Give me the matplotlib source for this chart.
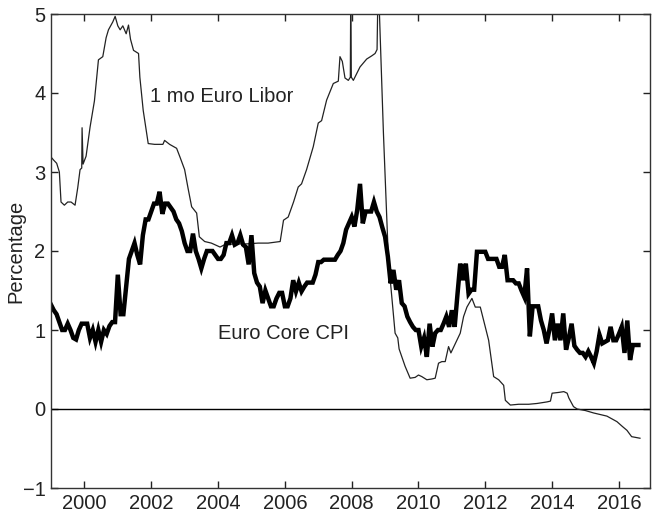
import matplotlib
matplotlib.use("Agg")
import matplotlib.pyplot as plt
import numpy as np

plt.rcParams['font.family'] = ['Liberation Sans', 'DejaVu Sans']

# Euro core CPI, monthly from Jan 1999 (year-over-year %)
cpi_1999 = [1.32, 1.25, 1.20, 1.10, 1.00, 1.00, 1.08, 1.00, 0.90, 0.88, 1.00, 1.08]
cpi_2000 = [1.08, 1.08, 0.90, 1.00, 0.85, 1.00, 0.85, 1.00, 0.95, 1.05, 1.10, 1.10]
cpi_2001 = [1.70, 1.20, 1.20, 1.55, 1.90, 2.00, 2.10, 1.95, 1.83, 2.20, 2.40, 2.40]
cpi_2002 = [2.50, 2.60, 2.60, 2.75, 2.47, 2.60, 2.60, 2.55, 2.50, 2.40, 2.35, 2.25]
cpi_2003 = [2.10, 2.00, 2.00, 2.22, 2.00, 1.90, 1.78, 1.90, 2.00, 2.00, 2.00, 1.95]
cpi_2004 = [1.90, 1.90, 1.95, 2.10, 2.10, 2.20, 2.08, 2.10, 2.20, 2.08, 2.05, 1.83]
cpi_2005 = [2.20, 1.72, 1.60, 1.55, 1.34, 1.50, 1.40, 1.30, 1.30, 1.40, 1.47, 1.47]
cpi_2006 = [1.30, 1.30, 1.40, 1.63, 1.49, 1.60, 1.49, 1.55, 1.60, 1.60, 1.60, 1.70]
cpi_2007 = [1.86, 1.86, 1.89, 1.89, 1.89, 1.89, 1.89, 1.95, 2.00, 2.10, 2.27, 2.35]
cpi_2008 = [2.43, 2.31, 2.52, 2.85, 2.35, 2.50, 2.50, 2.50, 2.62, 2.50, 2.43, 2.30]
cpi_2009 = [2.18, 1.93, 1.59, 1.76, 1.51, 1.63, 1.34, 1.30, 1.17, 1.10, 1.04, 1.00]
cpi_2010 = [1.00, 0.79, 0.90, 0.66, 1.08, 0.79, 0.96, 1.00, 1.00, 1.08, 1.17, 1.04]
cpi_2011 = [1.25, 1.04, 1.45, 1.84, 1.63, 1.84, 1.46, 1.51, 1.51, 1.99, 1.99, 1.99]
cpi_2012 = [1.99, 1.90, 1.90, 1.90, 1.90, 1.80, 1.80, 1.95, 1.63, 1.63, 1.63, 1.59]
cpi_2013 = [1.59, 1.50, 1.42, 1.78, 0.92, 1.30, 1.30, 1.30, 1.12, 1.00, 0.83, 1.00]
cpi_2014 = [1.21, 0.87, 1.08, 0.87, 1.21, 0.75, 0.90, 1.08, 0.80, 0.75, 0.71, 0.71]
cpi_2015 = [0.66, 0.73, 0.66, 0.58, 0.73, 0.94, 0.83, 0.85, 0.87, 1.04, 0.87, 0.87]
cpi_2016 = [0.95, 1.04, 0.71, 1.12, 0.62, 0.81, 0.81, 0.81]

cpi_values = (cpi_1999 + cpi_2000 + cpi_2001 + cpi_2002 + cpi_2003 + cpi_2004 +
              cpi_2005 + cpi_2006 + cpi_2007 + cpi_2008 + cpi_2009 + cpi_2010 +
              cpi_2011 + cpi_2012 + cpi_2013 + cpi_2014 + cpi_2015 + cpi_2016)
cpi_dates = 1999 + np.arange(len(cpi_values)) / 12.0

# 1-month Euro Libor (%), traced points
libor_dates = [1999.00, 1999.08, 1999.17, 1999.25, 1999.30, 1999.40, 1999.50, 1999.60,
               1999.72, 1999.80, 1999.87, 1999.92, 1999.93, 1999.96, 2000.05, 2000.17,
               2000.30, 2000.42, 2000.55, 2000.65, 2000.72, 2000.85, 2000.92, 2001.00,
               2001.07, 2001.15, 2001.25, 2001.32, 2001.38, 2001.47, 2001.62, 2001.66,
               2001.76, 2001.84, 2001.91, 2002.10, 2002.35, 2002.40, 2002.55, 2002.76,
               2002.86, 2003.00, 2003.10, 2003.21, 2003.36, 2003.44, 2003.60, 2003.80,
               2004.06, 2004.20, 2004.50, 2004.86, 2005.20, 2005.50, 2005.86, 2005.96,
               2006.10, 2006.26, 2006.40, 2006.50, 2006.65, 2006.85, 2007.00, 2007.10,
               2007.25, 2007.45, 2007.60, 2007.65, 2007.72, 2007.80, 2007.90, 2007.96,
               2007.97, 2007.99, 2008.05, 2008.25, 2008.45, 2008.60, 2008.70, 2008.76,
               2008.78, 2008.82, 2008.95, 2009.10, 2009.20, 2009.30, 2009.38, 2009.42,
               2009.60, 2009.75, 2009.90, 2010.00, 2010.10, 2010.25, 2010.40, 2010.50,
               2010.60, 2010.70, 2010.80, 2010.90, 2010.97, 2011.15, 2011.25, 2011.35,
               2011.45, 2011.60, 2011.70, 2011.85, 2011.95, 2012.10, 2012.25, 2012.40,
               2012.55, 2012.60, 2012.75, 2013.00, 2013.30, 2013.55, 2013.85, 2013.95,
               2014.00, 2014.20, 2014.35, 2014.45, 2014.50, 2014.64, 2014.75, 2015.00,
               2015.24, 2015.64, 2015.94, 2016.10, 2016.24, 2016.38, 2016.63]
libor_values = [3.19, 3.15, 3.11, 3.00, 2.62, 2.58, 2.62, 2.62,
                2.58, 2.80, 3.03, 3.05, 3.56, 3.10, 3.20, 3.57,
                3.90, 4.42, 4.46, 4.70, 4.80, 4.90, 4.97, 4.85,
                4.80, 4.85, 4.75, 4.86, 4.68, 4.54, 4.50, 4.20,
                3.78, 3.56, 3.36, 3.35, 3.35, 3.40, 3.35, 3.30,
                3.19, 3.03, 2.80, 2.56, 2.48, 2.18, 2.12, 2.10,
                2.05, 2.08, 2.09, 2.09, 2.10, 2.10, 2.12, 2.39,
                2.43, 2.62, 2.81, 2.85, 3.03, 3.32, 3.62, 3.65,
                3.91, 4.12, 4.15, 4.46, 4.40, 4.19, 4.16, 4.20,
                5.10, 4.20, 4.16, 4.33, 4.43, 4.47, 4.50, 4.55,
                5.10, 5.15, 3.50, 1.89, 1.42, 0.96, 0.90, 0.76,
                0.54, 0.39, 0.40, 0.43, 0.41, 0.37, 0.38, 0.39,
                0.58, 0.60, 0.60, 0.79, 0.71, 0.87, 0.96, 1.17,
                1.29, 1.40, 1.29, 1.29, 1.12, 0.87, 0.41, 0.37,
                0.30, 0.11, 0.05, 0.06, 0.06, 0.07, 0.09, 0.10,
                0.20, 0.21, 0.22, 0.20, 0.14, 0.03, 0.00, -0.02,
                -0.05, -0.09, -0.16, -0.22, -0.27, -0.35, -0.37]

xticks = [2000, 2002, 2004, 2006, 2008, 2010, 2012, 2014, 2016]
yticks = [-1, 0, 1, 2, 3, 4, 5]

FS = 14.5

fig = plt.figure(figsize=(6.52, 5.16), dpi=100)
ax = fig.add_axes([51/652, 1 - 488/516, 599/652, 474/516])

ax.axhline(0, color='black', lw=1.0)
ax.plot(libor_dates, libor_values, color='#222222', lw=0.9)
ax.plot(cpi_dates, cpi_values, color='black', lw=3.2, solid_joinstyle='miter')

ax.set_xlim(1999.0, 2016.93)
ax.set_ylim(-1, 5)
ax.set_xticks(xticks)
ax.set_xticklabels([str(t) for t in xticks])
ax.set_yticks(yticks)
ax.set_yticklabels(['\u22121' if t < 0 else str(t) for t in yticks])
ax.tick_params(direction='in', length=5, width=1, labelsize=FS, top=True, right=True,
               colors='#222222', pad=4)
for s in ax.spines.values():
    s.set_linewidth(1.0)
    s.set_color('#333333')

ax.set_ylabel('Percentage', fontsize=FS, color='#222222')
ax.yaxis.set_label_coords(-0.042, 0.5)

ax.text(2001.96, 3.95, '1 mo Euro Libor', fontsize=FS, va='center', ha='left', color='#222222')
ax.text(2004.0, 0.96, 'Euro Core CPI', fontsize=FS, va='center', ha='left', color='#222222')

fig.savefig('out.png', dpi=100)
